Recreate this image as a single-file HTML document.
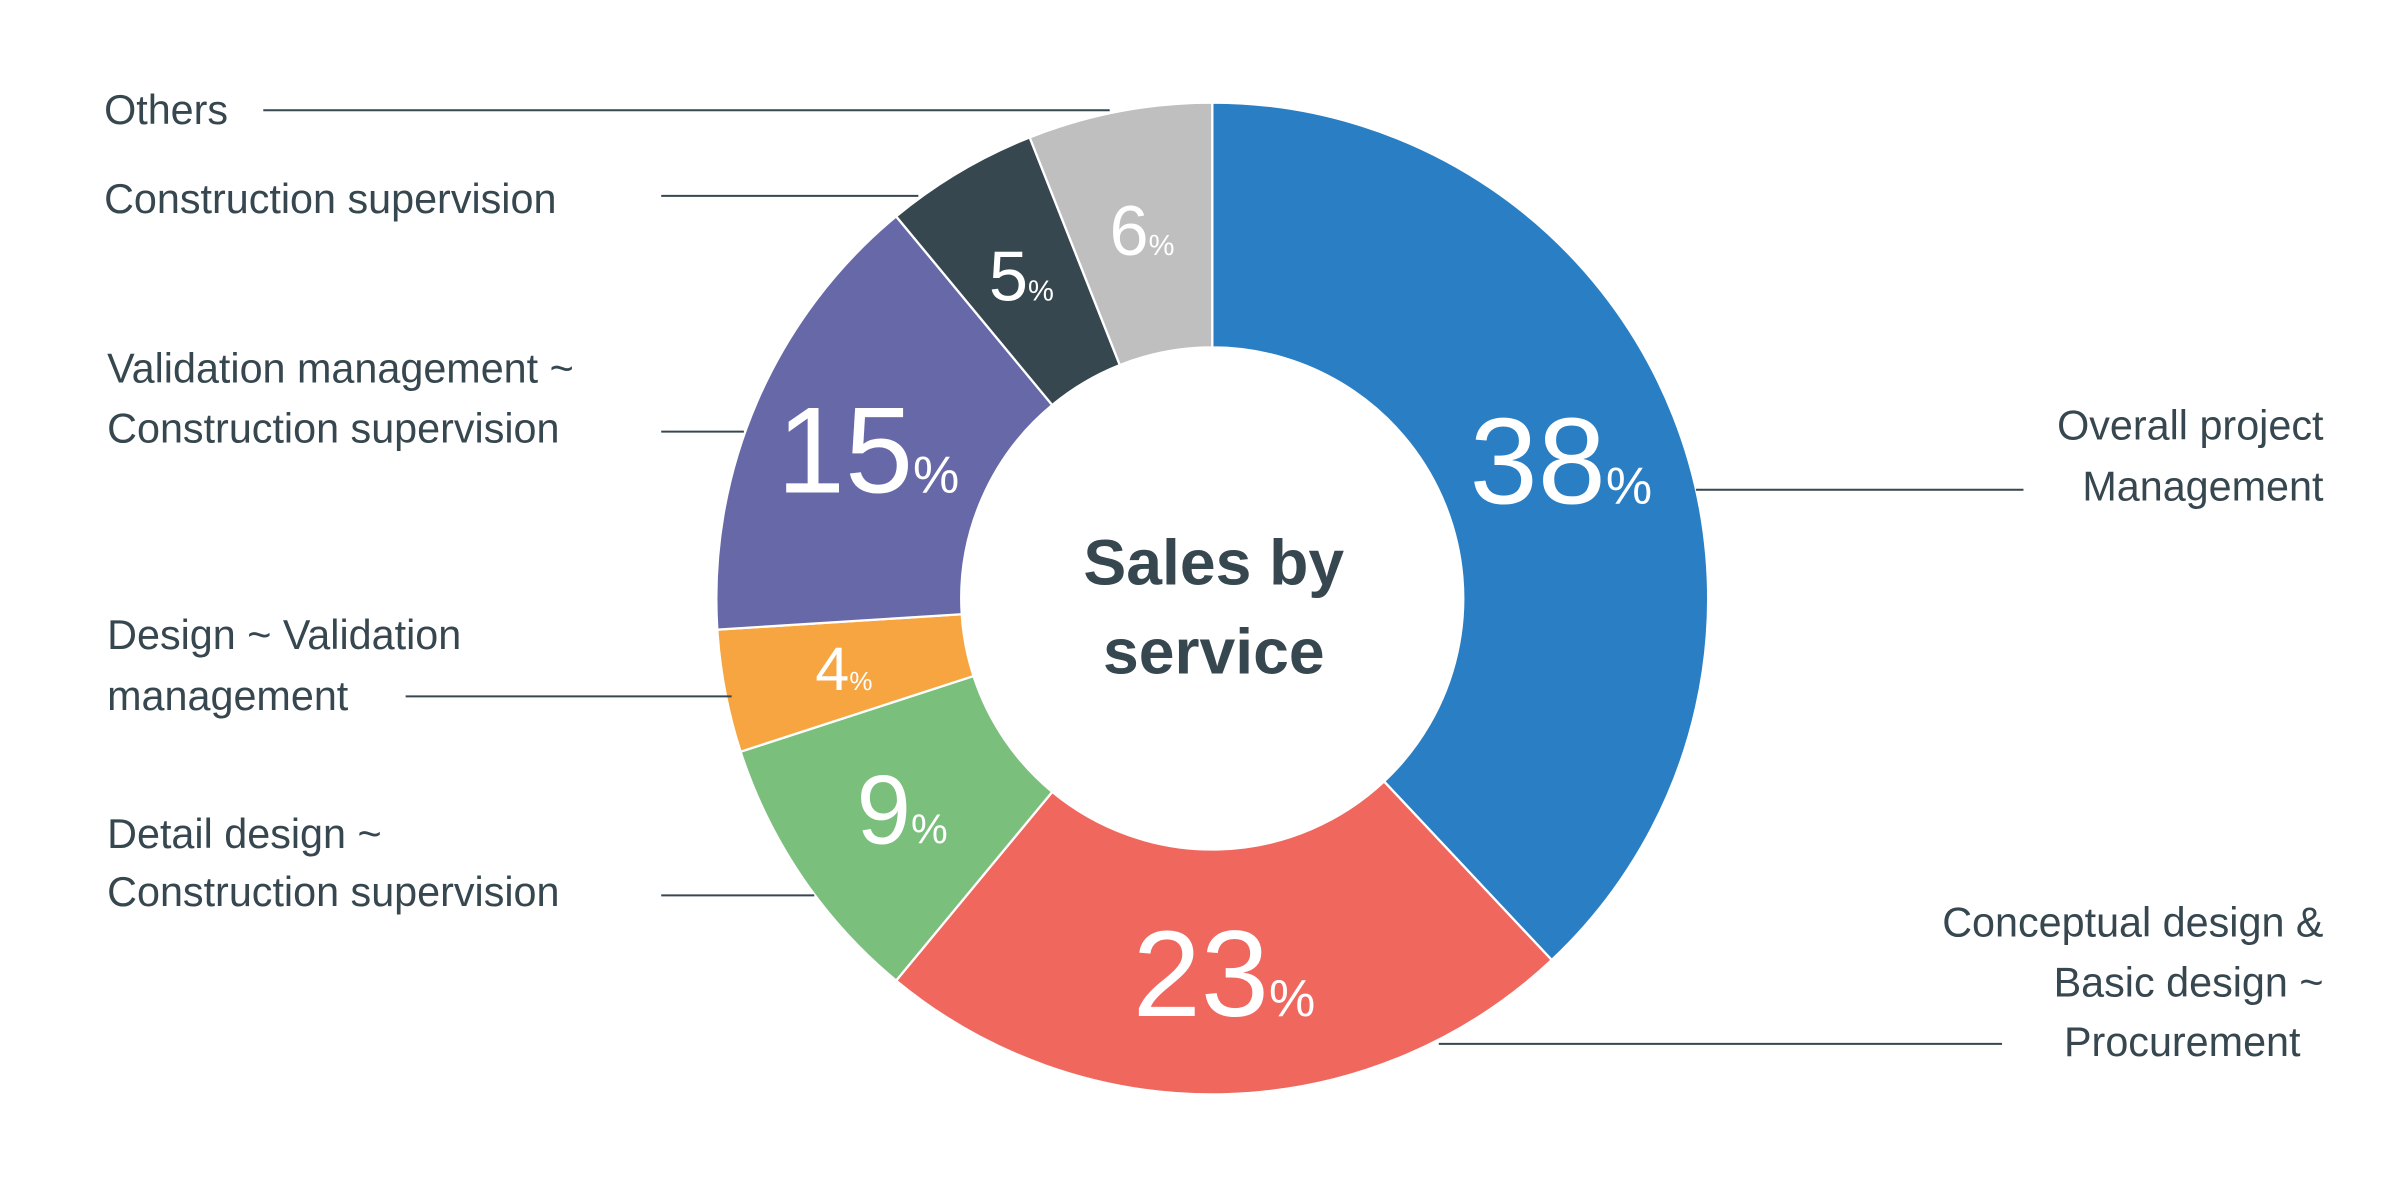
<!DOCTYPE html>
<html><head><meta charset="utf-8"><style>
html,body{margin:0;padding:0;background:#fff;}
svg{display:block;font-family:"Liberation Sans",sans-serif;}
</style></head><body>
<svg id="chart" width="2400" height="1200" viewBox="0 0 1568 784">
<rect width="1568" height="784" fill="#fff"/>
<g id="slices"></g>
<g id="pcts"></g>
<g fill="#37474f" font-weight="bold" font-size="42" text-anchor="middle">
<text x="793" y="382">Sales by</text>
<text x="793" y="440">service</text>
</g>
<g fill="#37474f" font-size="27" stroke-width="1.3">
<text x="68" y="81">Others</text>
<line x1="172" y1="72" x2="725" y2="72" stroke="#37474f"/>
<text x="68" y="139">Construction supervision</text>
<line x1="432" y1="128" x2="600" y2="128" stroke="#37474f"/>
<text x="70" y="250">Validation management ~</text>
<text x="70" y="289">Construction supervision</text>
<line x1="432" y1="282" x2="486" y2="282" stroke="#37474f"/>
<text x="70" y="424">Design ~ Validation</text>
<text x="70" y="464">management</text>
<line x1="265" y1="455" x2="478" y2="455" stroke="#37474f"/>
<text x="70" y="554">Detail design ~</text>
<text x="70" y="592">Construction supervision</text>
<line x1="432" y1="585" x2="532" y2="585" stroke="#37474f"/>
<text x="1518" y="287" text-anchor="end">Overall project</text>
<text x="1518" y="327" text-anchor="end">Management</text>
<line x1="1108" y1="320" x2="1322" y2="320" stroke="#37474f"/>
<text x="1518" y="612" text-anchor="end">Conceptual design &amp;</text>
<text x="1518" y="651" text-anchor="end">Basic design ~</text>
<text x="1503" y="690" text-anchor="end">Procurement</text>
<line x1="940" y1="682" x2="1308" y2="682" stroke="#37474f"/>
</g>
</svg>
<script>
const categories = ["Overall project Management","Conceptual design & Basic design ~ Procurement","Detail design ~ Construction supervision","Design ~ Validation management","Validation management ~ Construction supervision","Construction supervision","Others"];
const values = [38, 23, 9, 4, 15, 5, 6];
const colors = ["#2a7fc4","#f0675e","#7abf7b","#f7a541","#6768a8","#37474f","#bfbfbf"];
const fontSizes = [80, 80, 64, 40, 80, 46, 46];
const ns = "http://www.w3.org/2000/svg";
const cx = 792, cy = 391, R = 324, r0 = 164, rLabel = 245;
const total = values.reduce((a,b)=>a+b,0);
function pt(frac, rad){ const a = frac*2*Math.PI; return [cx + rad*Math.sin(a), cy - rad*Math.cos(a)]; }
const gS = document.getElementById('slices'), gP = document.getElementById('pcts');
let cum = 0;
values.forEach((v,i)=>{
  const f0 = cum/total, f1 = (cum+v)/total; cum += v;
  const large = (f1-f0) > 0.5 ? 1 : 0;
  const [x0,y0]=pt(f0,R),[x1,y1]=pt(f1,R),[x2,y2]=pt(f1,r0),[x3,y3]=pt(f0,r0);
  const p = document.createElementNS(ns,'path');
  p.setAttribute('d',`M${x0},${y0}A${R},${R} 0 ${large} 1 ${x1},${y1}L${x2},${y2}A${r0},${r0} 0 ${large} 0 ${x3},${y3}Z`);
  p.setAttribute('fill',colors[i]); p.setAttribute('stroke','#fff'); p.setAttribute('stroke-width','1.5');
  
  
  gS.appendChild(p);
  const [lx,ly]=pt((f0+f1)/2, rLabel);
  const t = document.createElementNS(ns,'text');
  t.setAttribute('x',lx); t.setAttribute('y',ly + fontSizes[i]*0.35);
  t.setAttribute('text-anchor','middle'); t.setAttribute('fill','#fff');
  t.setAttribute('font-size',fontSizes[i]);
  t.textContent = v;
  const s = document.createElementNS(ns,'tspan');
  s.setAttribute('font-size',Math.round(fontSizes[i]*0.42)); s.textContent='%';
  t.appendChild(s);
  
  
  gP.appendChild(t);
});
</script>
</body></html>
